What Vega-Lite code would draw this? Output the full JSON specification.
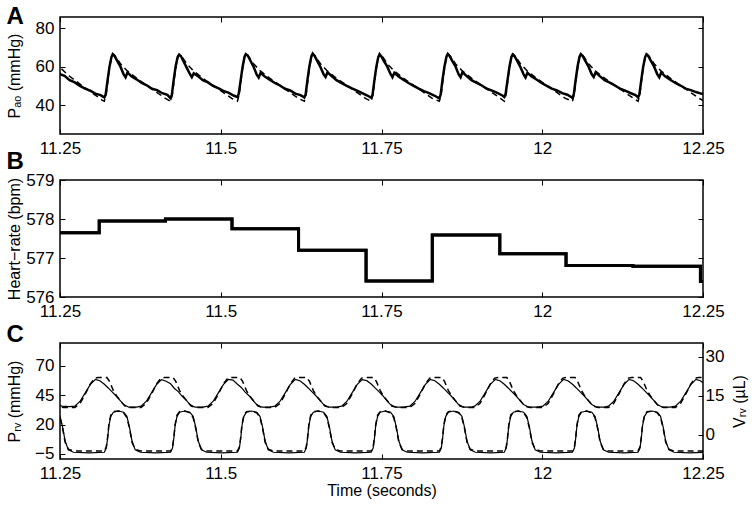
{
"$schema": "https://vega.github.io/schema/vega-lite/v6.json",
"padding": {"left": 5, "top": 3, "right": 5, "bottom": 3},
"background": "white",
"config": {
  "font": "Liberation Sans",
  "view": {"stroke": "black", "strokeWidth": 1.5},
  "axis": {"domain": false, "grid": false, "ticks": true, "tickSize": -5, "tickColor": "black", "tickWidth": 1,
           "labelFontSize": 17, "labelColor": "black", "labelFont": "Liberation Sans", "labelPadding": 11,
           "labelFlush": false, "labelOverlap": false,
           "titleFont": "Liberation Sans", "titleFontSize": 16, "titleFontWeight": "normal", "titleColor": "black"}
},
"datasets": {
"aoMeas": [
{"t":11.245,"v":57.5},{"t":11.251,"v":56},{"t":11.257,"v":55.2},{"t":11.265,"v":53},{"t":11.273,"v":51.8},{"t":11.281,"v":50},{"t":11.289,"v":48.6},{"t":11.297,"v":47.5},{"t":11.305,"v":46},{"t":11.313,"v":45.2},
{"t":11.319,"v":44},{"t":11.321,"v":45.5},{"t":11.324,"v":53},{"t":11.327,"v":60},{"t":11.330,"v":65},{"t":11.332,"v":66.5},{"t":11.335,"v":65.5},{"t":11.339,"v":63},{"t":11.344,"v":60},{"t":11.349,"v":56},{"t":11.352,"v":54.5},{"t":11.355,"v":57},{"t":11.361,"v":55},{"t":11.369,"v":53.4},{"t":11.377,"v":51.5},{"t":11.385,"v":50.3},{"t":11.393,"v":48.5},{"t":11.401,"v":47.8},{"t":11.409,"v":46.2},{"t":11.417,"v":45.3},
{"t":11.422,"v":43.5},{"t":11.424,"v":45.5},{"t":11.427,"v":53.5},{"t":11.430,"v":60.5},{"t":11.433,"v":65},{"t":11.435,"v":66.2},{"t":11.438,"v":65.5},{"t":11.442,"v":62.8},{"t":11.447,"v":59.5},{"t":11.452,"v":56.2},{"t":11.455,"v":54.5},{"t":11.458,"v":56.5},{"t":11.464,"v":55.2},{"t":11.472,"v":53},{"t":11.480,"v":51.8},{"t":11.488,"v":50},{"t":11.496,"v":48.8},{"t":11.504,"v":47.4},{"t":11.512,"v":46.5},{"t":11.520,"v":45},
{"t":11.526,"v":44.2},{"t":11.528,"v":46},{"t":11.531,"v":53},{"t":11.534,"v":60},{"t":11.537,"v":65.2},{"t":11.539,"v":66.5},{"t":11.542,"v":65.8},{"t":11.546,"v":63.2},{"t":11.551,"v":60},{"t":11.556,"v":55.8},{"t":11.559,"v":54.3},{"t":11.562,"v":56.8},{"t":11.568,"v":55},{"t":11.576,"v":53.2},{"t":11.584,"v":51.6},{"t":11.592,"v":50.2},{"t":11.600,"v":48.5},{"t":11.608,"v":47.6},{"t":11.616,"v":46},{"t":11.624,"v":45.2},
{"t":11.630,"v":44},{"t":11.632,"v":45.5},{"t":11.635,"v":53.5},{"t":11.638,"v":60.5},{"t":11.641,"v":65.5},{"t":11.643,"v":66.8},{"t":11.646,"v":65.6},{"t":11.650,"v":63},{"t":11.655,"v":59.8},{"t":11.660,"v":56},{"t":11.663,"v":54.6},{"t":11.666,"v":57},{"t":11.672,"v":55.3},{"t":11.680,"v":53},{"t":11.688,"v":51.4},{"t":11.696,"v":50},{"t":11.704,"v":48.7},{"t":11.712,"v":47.5},{"t":11.720,"v":46.3},{"t":11.728,"v":45},
{"t":11.734,"v":43.8},{"t":11.736,"v":45.2},{"t":11.739,"v":53},{"t":11.742,"v":60},{"t":11.745,"v":65},{"t":11.747,"v":66.5},{"t":11.750,"v":65.2},{"t":11.754,"v":62.8},{"t":11.759,"v":60},{"t":11.764,"v":56.2},{"t":11.767,"v":54.5},{"t":11.770,"v":56.8},{"t":11.776,"v":55},{"t":11.784,"v":53.2},{"t":11.792,"v":51.5},{"t":11.800,"v":50},{"t":11.808,"v":48.6},{"t":11.816,"v":47.3},{"t":11.824,"v":46.2},{"t":11.832,"v":45},
{"t":11.840,"v":43.5},{"t":11.842,"v":45.5},{"t":11.845,"v":53.5},{"t":11.848,"v":60.2},{"t":11.851,"v":65.2},{"t":11.853,"v":66.6},{"t":11.856,"v":65.5},{"t":11.860,"v":63},{"t":11.865,"v":60.2},{"t":11.870,"v":56},{"t":11.873,"v":54.5},{"t":11.876,"v":57.2},{"t":11.882,"v":55.2},{"t":11.890,"v":53},{"t":11.898,"v":51.6},{"t":11.906,"v":50.2},{"t":11.914,"v":48.5},{"t":11.922,"v":47.5},{"t":11.930,"v":46.4},{"t":11.938,"v":45},
{"t":11.941,"v":44.2},{"t":11.943,"v":45.8},{"t":11.946,"v":53},{"t":11.949,"v":60},{"t":11.952,"v":65},{"t":11.954,"v":66.3},{"t":11.957,"v":65.4},{"t":11.961,"v":63},{"t":11.966,"v":59.8},{"t":11.971,"v":56},{"t":11.974,"v":54.4},{"t":11.977,"v":56.8},{"t":11.983,"v":55},{"t":11.991,"v":53.3},{"t":11.999,"v":51.5},{"t":12.007,"v":50},{"t":12.015,"v":48.6},{"t":12.023,"v":47.6},{"t":12.031,"v":46.2},{"t":12.039,"v":45.4},
{"t":12.047,"v":43.8},{"t":12.049,"v":45.5},{"t":12.052,"v":53.2},{"t":12.055,"v":60.2},{"t":12.058,"v":65.2},{"t":12.060,"v":66.5},{"t":12.063,"v":65.5},{"t":12.067,"v":63},{"t":12.072,"v":60},{"t":12.077,"v":56},{"t":12.080,"v":54.6},{"t":12.083,"v":57},{"t":12.089,"v":55.2},{"t":12.097,"v":53},{"t":12.105,"v":51.7},{"t":12.113,"v":50.2},{"t":12.121,"v":48.6},{"t":12.129,"v":47.5},{"t":12.137,"v":46.3},{"t":12.145,"v":45.2},
{"t":12.149,"v":44},{"t":12.151,"v":45.5},{"t":12.154,"v":53},{"t":12.157,"v":60},{"t":12.160,"v":65},{"t":12.162,"v":66.4},{"t":12.165,"v":65.5},{"t":12.169,"v":63},{"t":12.174,"v":60},{"t":12.179,"v":56},{"t":12.182,"v":54.5},{"t":12.185,"v":57},{"t":12.191,"v":55},{"t":12.199,"v":53.2},{"t":12.207,"v":51.5},{"t":12.215,"v":50.2},{"t":12.223,"v":48.6},{"t":12.231,"v":47.8},{"t":12.239,"v":46.8},{"t":12.247,"v":46},{"t":12.255,"v":45.5}
],
"aoModel": [
{"t":11.240,"v":62},{"t":11.250,"v":59.5},{"t":11.265,"v":55},{"t":11.280,"v":51.2},{"t":11.295,"v":47.5},{"t":11.310,"v":44},{"t":11.316,"v":42.5},
{"t":11.319,"v":42},{"t":11.322,"v":46},{"t":11.326,"v":57},{"t":11.330,"v":65},{"t":11.333,"v":66.5},{"t":11.337,"v":65},{"t":11.344,"v":61.5},{"t":11.354,"v":58},{"t":11.369,"v":54},{"t":11.384,"v":50.5},{"t":11.399,"v":47},{"t":11.414,"v":43.5},
{"t":11.422,"v":42},{"t":11.425,"v":46},{"t":11.429,"v":57},{"t":11.433,"v":65},{"t":11.436,"v":66.5},{"t":11.440,"v":65},{"t":11.447,"v":61.5},{"t":11.457,"v":58},{"t":11.472,"v":54},{"t":11.487,"v":50.5},{"t":11.502,"v":47},{"t":11.517,"v":43.5},
{"t":11.526,"v":42},{"t":11.529,"v":46},{"t":11.533,"v":57},{"t":11.537,"v":65},{"t":11.540,"v":66.5},{"t":11.544,"v":65},{"t":11.551,"v":61.5},{"t":11.561,"v":58},{"t":11.576,"v":54},{"t":11.591,"v":50.5},{"t":11.606,"v":47},{"t":11.621,"v":43.5},
{"t":11.630,"v":42},{"t":11.633,"v":46},{"t":11.637,"v":57},{"t":11.641,"v":65},{"t":11.644,"v":66.5},{"t":11.648,"v":65},{"t":11.655,"v":61.5},{"t":11.665,"v":58},{"t":11.680,"v":54},{"t":11.695,"v":50.5},{"t":11.710,"v":47},{"t":11.725,"v":43.5},
{"t":11.734,"v":42},{"t":11.737,"v":46},{"t":11.741,"v":57},{"t":11.745,"v":65},{"t":11.748,"v":66.5},{"t":11.752,"v":65},{"t":11.759,"v":61.5},{"t":11.769,"v":58},{"t":11.784,"v":54},{"t":11.799,"v":50.5},{"t":11.814,"v":47},{"t":11.829,"v":43.5},
{"t":11.840,"v":42},{"t":11.843,"v":46},{"t":11.847,"v":57},{"t":11.851,"v":65},{"t":11.854,"v":66.5},{"t":11.858,"v":65},{"t":11.865,"v":61.5},{"t":11.875,"v":58},{"t":11.890,"v":54},{"t":11.905,"v":50.5},{"t":11.920,"v":47},{"t":11.935,"v":43.5},
{"t":11.941,"v":42},{"t":11.944,"v":46},{"t":11.948,"v":57},{"t":11.952,"v":65},{"t":11.955,"v":66.5},{"t":11.959,"v":65},{"t":11.966,"v":61.5},{"t":11.976,"v":58},{"t":11.991,"v":54},{"t":12.006,"v":50.5},{"t":12.021,"v":47},{"t":12.036,"v":43.5},
{"t":12.047,"v":42},{"t":12.050,"v":46},{"t":12.054,"v":57},{"t":12.058,"v":65},{"t":12.061,"v":66.5},{"t":12.065,"v":65},{"t":12.072,"v":61.5},{"t":12.082,"v":58},{"t":12.097,"v":54},{"t":12.112,"v":50.5},{"t":12.127,"v":47},{"t":12.142,"v":43.5},
{"t":12.149,"v":42},{"t":12.152,"v":46},{"t":12.156,"v":57},{"t":12.160,"v":65},{"t":12.163,"v":66.5},{"t":12.167,"v":65},{"t":12.174,"v":61.5},{"t":12.184,"v":58},{"t":12.199,"v":54},{"t":12.214,"v":50.5},{"t":12.229,"v":47},{"t":12.244,"v":43.5},{"t":12.253,"v":42}
],
"hr": [
{"t":11.25,"v":577.65},{"t":11.311,"v":577.95},{"t":11.414,"v":578.0},{"t":11.5175,"v":577.75},{"t":11.621,"v":577.2},{"t":11.726,"v":576.41},{"t":11.829,"v":577.59},{"t":11.934,"v":577.11},{"t":12.037,"v":576.81},{"t":12.141,"v":576.79},{"t":12.246,"v":576.4},{"t":12.25,"v":576.4}
],
"prvMeas": [
{"t":11.240,"v":31},{"t":11.245,"v":30.5},{"t":11.250,"v":27},{"t":11.254,"v":18},{"t":11.258,"v":6},{"t":11.263,"v":-1.5},{"t":11.271,"v":-3.5},{"t":11.295,"v":-4},
{"t":11.319,"v":-3.5},{"t":11.322,"v":0},{"t":11.324,"v":8},{"t":11.326,"v":19},{"t":11.329,"v":27},{"t":11.333,"v":30.5},{"t":11.341,"v":31.5},{"t":11.349,"v":30.5},{"t":11.354,"v":27},{"t":11.358,"v":18},{"t":11.362,"v":6},{"t":11.367,"v":-1.5},{"t":11.375,"v":-3.5},{"t":11.399,"v":-4},
{"t":11.422,"v":-3.5},{"t":11.425,"v":0},{"t":11.427,"v":8},{"t":11.429,"v":19},{"t":11.432,"v":27},{"t":11.436,"v":30.5},{"t":11.444,"v":31.5},{"t":11.452,"v":30.5},{"t":11.457,"v":27},{"t":11.461,"v":18},{"t":11.465,"v":6},{"t":11.470,"v":-1.5},{"t":11.478,"v":-3.5},{"t":11.502,"v":-4},
{"t":11.526,"v":-3.5},{"t":11.529,"v":0},{"t":11.531,"v":8},{"t":11.533,"v":19},{"t":11.536,"v":27},{"t":11.540,"v":30.5},{"t":11.548,"v":31.5},{"t":11.556,"v":30.5},{"t":11.561,"v":27},{"t":11.565,"v":18},{"t":11.569,"v":6},{"t":11.574,"v":-1.5},{"t":11.582,"v":-3.5},{"t":11.606,"v":-4},
{"t":11.630,"v":-3.5},{"t":11.633,"v":0},{"t":11.635,"v":8},{"t":11.637,"v":19},{"t":11.640,"v":27},{"t":11.644,"v":30.5},{"t":11.652,"v":31.5},{"t":11.660,"v":30.5},{"t":11.665,"v":27},{"t":11.669,"v":18},{"t":11.673,"v":6},{"t":11.678,"v":-1.5},{"t":11.686,"v":-3.5},{"t":11.710,"v":-4},
{"t":11.734,"v":-3.5},{"t":11.737,"v":0},{"t":11.739,"v":8},{"t":11.741,"v":19},{"t":11.744,"v":27},{"t":11.748,"v":30.5},{"t":11.756,"v":31.5},{"t":11.764,"v":30.5},{"t":11.769,"v":27},{"t":11.773,"v":18},{"t":11.777,"v":6},{"t":11.782,"v":-1.5},{"t":11.790,"v":-3.5},{"t":11.814,"v":-4},
{"t":11.840,"v":-3.5},{"t":11.843,"v":0},{"t":11.845,"v":8},{"t":11.847,"v":19},{"t":11.850,"v":27},{"t":11.854,"v":30.5},{"t":11.862,"v":31.5},{"t":11.870,"v":30.5},{"t":11.875,"v":27},{"t":11.879,"v":18},{"t":11.883,"v":6},{"t":11.888,"v":-1.5},{"t":11.896,"v":-3.5},{"t":11.920,"v":-4},
{"t":11.941,"v":-3.5},{"t":11.944,"v":0},{"t":11.946,"v":8},{"t":11.948,"v":19},{"t":11.951,"v":27},{"t":11.955,"v":30.5},{"t":11.963,"v":31.5},{"t":11.971,"v":30.5},{"t":11.976,"v":27},{"t":11.980,"v":18},{"t":11.984,"v":6},{"t":11.989,"v":-1.5},{"t":11.997,"v":-3.5},{"t":12.021,"v":-4},
{"t":12.047,"v":-3.5},{"t":12.050,"v":0},{"t":12.052,"v":8},{"t":12.054,"v":19},{"t":12.057,"v":27},{"t":12.061,"v":30.5},{"t":12.069,"v":31.5},{"t":12.077,"v":30.5},{"t":12.082,"v":27},{"t":12.086,"v":18},{"t":12.090,"v":6},{"t":12.095,"v":-1.5},{"t":12.103,"v":-3.5},{"t":12.127,"v":-4},
{"t":12.149,"v":-3.5},{"t":12.152,"v":0},{"t":12.154,"v":8},{"t":12.156,"v":19},{"t":12.159,"v":27},{"t":12.163,"v":30.5},{"t":12.171,"v":31.5},{"t":12.179,"v":30.5},{"t":12.184,"v":27},{"t":12.188,"v":18},{"t":12.192,"v":6},{"t":12.197,"v":-1.5},{"t":12.205,"v":-3.5},{"t":12.229,"v":-4},
{"t":12.252,"v":-3.5},{"t":12.256,"v":0}
],
"prvModel": [
{"t":11.240,"v":31},{"t":11.245,"v":30},{"t":11.250,"v":26},{"t":11.254,"v":17},{"t":11.258,"v":5},{"t":11.263,"v":-1},{"t":11.271,"v":-2.5},{"t":11.295,"v":-2.5},
{"t":11.319,"v":-2.5},{"t":11.322,"v":1},{"t":11.324,"v":9},{"t":11.326,"v":20},{"t":11.329,"v":28},{"t":11.333,"v":31},{"t":11.341,"v":31.5},{"t":11.349,"v":30},{"t":11.354,"v":26},{"t":11.358,"v":17},{"t":11.362,"v":5},{"t":11.367,"v":-1},{"t":11.375,"v":-2.5},{"t":11.399,"v":-2.5},
{"t":11.422,"v":-2.5},{"t":11.425,"v":1},{"t":11.427,"v":9},{"t":11.429,"v":20},{"t":11.432,"v":28},{"t":11.436,"v":31},{"t":11.444,"v":31.5},{"t":11.452,"v":30},{"t":11.457,"v":26},{"t":11.461,"v":17},{"t":11.465,"v":5},{"t":11.470,"v":-1},{"t":11.478,"v":-2.5},{"t":11.502,"v":-2.5},
{"t":11.526,"v":-2.5},{"t":11.529,"v":1},{"t":11.531,"v":9},{"t":11.533,"v":20},{"t":11.536,"v":28},{"t":11.540,"v":31},{"t":11.548,"v":31.5},{"t":11.556,"v":30},{"t":11.561,"v":26},{"t":11.565,"v":17},{"t":11.569,"v":5},{"t":11.574,"v":-1},{"t":11.582,"v":-2.5},{"t":11.606,"v":-2.5},
{"t":11.630,"v":-2.5},{"t":11.633,"v":1},{"t":11.635,"v":9},{"t":11.637,"v":20},{"t":11.640,"v":28},{"t":11.644,"v":31},{"t":11.652,"v":31.5},{"t":11.660,"v":30},{"t":11.665,"v":26},{"t":11.669,"v":17},{"t":11.673,"v":5},{"t":11.678,"v":-1},{"t":11.686,"v":-2.5},{"t":11.710,"v":-2.5},
{"t":11.734,"v":-2.5},{"t":11.737,"v":1},{"t":11.739,"v":9},{"t":11.741,"v":20},{"t":11.744,"v":28},{"t":11.748,"v":31},{"t":11.756,"v":31.5},{"t":11.764,"v":30},{"t":11.769,"v":26},{"t":11.773,"v":17},{"t":11.777,"v":5},{"t":11.782,"v":-1},{"t":11.790,"v":-2.5},{"t":11.814,"v":-2.5},
{"t":11.840,"v":-2.5},{"t":11.843,"v":1},{"t":11.845,"v":9},{"t":11.847,"v":20},{"t":11.850,"v":28},{"t":11.854,"v":31},{"t":11.862,"v":31.5},{"t":11.870,"v":30},{"t":11.875,"v":26},{"t":11.879,"v":17},{"t":11.883,"v":5},{"t":11.888,"v":-1},{"t":11.896,"v":-2.5},{"t":11.920,"v":-2.5},
{"t":11.941,"v":-2.5},{"t":11.944,"v":1},{"t":11.946,"v":9},{"t":11.948,"v":20},{"t":11.951,"v":28},{"t":11.955,"v":31},{"t":11.963,"v":31.5},{"t":11.971,"v":30},{"t":11.976,"v":26},{"t":11.980,"v":17},{"t":11.984,"v":5},{"t":11.989,"v":-1},{"t":11.997,"v":-2.5},{"t":12.021,"v":-2.5},
{"t":12.047,"v":-2.5},{"t":12.050,"v":1},{"t":12.052,"v":9},{"t":12.054,"v":20},{"t":12.057,"v":28},{"t":12.061,"v":31},{"t":12.069,"v":31.5},{"t":12.077,"v":30},{"t":12.082,"v":26},{"t":12.086,"v":17},{"t":12.090,"v":5},{"t":12.095,"v":-1},{"t":12.103,"v":-2.5},{"t":12.127,"v":-2.5},
{"t":12.149,"v":-2.5},{"t":12.152,"v":1},{"t":12.154,"v":9},{"t":12.156,"v":20},{"t":12.159,"v":28},{"t":12.163,"v":31},{"t":12.171,"v":31.5},{"t":12.179,"v":30},{"t":12.184,"v":26},{"t":12.188,"v":17},{"t":12.192,"v":5},{"t":12.197,"v":-1},{"t":12.205,"v":-2.5},{"t":12.229,"v":-2.5},
{"t":12.252,"v":-2.5},{"t":12.256,"v":1}
],
"vrvMeas": [
{"t":11.239,"v":13.3},{"t":11.245,"v":11.6},{"t":11.253,"v":11},{"t":11.265,"v":10.8},
{"t":11.273,"v":11},{"t":11.281,"v":12.8},{"t":11.289,"v":16},{"t":11.297,"v":19.3},{"t":11.305,"v":21.3},{"t":11.312,"v":20.8},{"t":11.319,"v":19.4},{"t":11.325,"v":18},{"t":11.331,"v":16.5},{"t":11.337,"v":15},{"t":11.343,"v":13.3},{"t":11.349,"v":11.6},{"t":11.357,"v":10.6},{"t":11.369,"v":10.6},
{"t":11.376,"v":11},{"t":11.384,"v":12.8},{"t":11.392,"v":16},{"t":11.400,"v":19.3},{"t":11.408,"v":21.2},{"t":11.415,"v":20.6},{"t":11.422,"v":19.6},{"t":11.428,"v":17.8},{"t":11.434,"v":16.6},{"t":11.440,"v":14.8},{"t":11.446,"v":13.4},{"t":11.452,"v":11.6},{"t":11.460,"v":10.6},{"t":11.472,"v":10.6},
{"t":11.480,"v":11},{"t":11.488,"v":12.8},{"t":11.496,"v":16},{"t":11.504,"v":19.3},{"t":11.512,"v":21.3},{"t":11.519,"v":21},{"t":11.526,"v":19.4},{"t":11.532,"v":18.2},{"t":11.538,"v":16.4},{"t":11.544,"v":15},{"t":11.550,"v":13.2},{"t":11.556,"v":11.6},{"t":11.564,"v":10.6},{"t":11.576,"v":10.6},
{"t":11.584,"v":11},{"t":11.592,"v":12.8},{"t":11.600,"v":16},{"t":11.608,"v":19.3},{"t":11.616,"v":21.3},{"t":11.623,"v":20.8},{"t":11.630,"v":19.4},{"t":11.636,"v":18},{"t":11.642,"v":16.5},{"t":11.648,"v":15},{"t":11.654,"v":13.3},{"t":11.660,"v":11.6},{"t":11.668,"v":10.6},{"t":11.680,"v":10.6},
{"t":11.688,"v":11},{"t":11.696,"v":12.8},{"t":11.704,"v":16},{"t":11.712,"v":19.3},{"t":11.720,"v":21.2},{"t":11.727,"v":20.8},{"t":11.734,"v":19.5},{"t":11.740,"v":18},{"t":11.746,"v":16.6},{"t":11.752,"v":15},{"t":11.758,"v":13.2},{"t":11.764,"v":11.6},{"t":11.772,"v":10.6},{"t":11.784,"v":10.6},
{"t":11.794,"v":11},{"t":11.802,"v":12.8},{"t":11.810,"v":16},{"t":11.818,"v":19.3},{"t":11.826,"v":21.3},{"t":11.833,"v":20.8},{"t":11.840,"v":19.4},{"t":11.846,"v":18},{"t":11.852,"v":16.5},{"t":11.858,"v":15},{"t":11.864,"v":13.3},{"t":11.870,"v":11.6},{"t":11.878,"v":10.6},{"t":11.890,"v":10.6},
{"t":11.895,"v":11},{"t":11.903,"v":12.8},{"t":11.911,"v":16},{"t":11.919,"v":19.3},{"t":11.927,"v":21.3},{"t":11.934,"v":20.8},{"t":11.941,"v":19.4},{"t":11.947,"v":18},{"t":11.953,"v":16.5},{"t":11.959,"v":15},{"t":11.965,"v":13.3},{"t":11.971,"v":11.6},{"t":11.979,"v":10.6},{"t":11.991,"v":10.6},
{"t":12.001,"v":11},{"t":12.009,"v":12.8},{"t":12.017,"v":16},{"t":12.025,"v":19.3},{"t":12.033,"v":21.3},{"t":12.040,"v":20.8},{"t":12.047,"v":19.4},{"t":12.053,"v":18},{"t":12.059,"v":16.5},{"t":12.065,"v":15},{"t":12.071,"v":13.3},{"t":12.077,"v":11.6},{"t":12.085,"v":10.6},{"t":12.097,"v":10.6},
{"t":12.103,"v":11},{"t":12.111,"v":12.8},{"t":12.119,"v":16},{"t":12.127,"v":19.3},{"t":12.135,"v":21.3},{"t":12.142,"v":20.8},{"t":12.149,"v":19.4},{"t":12.155,"v":18},{"t":12.161,"v":16.5},{"t":12.167,"v":15},{"t":12.173,"v":13.3},{"t":12.179,"v":11.6},{"t":12.187,"v":10.6},{"t":12.199,"v":10.6},
{"t":12.207,"v":11},{"t":12.215,"v":12.8},{"t":12.223,"v":16},{"t":12.231,"v":19.3},{"t":12.239,"v":21.3},{"t":12.246,"v":20.8},{"t":12.253,"v":19.4}
],
"vrvModel": [
{"t":11.241,"v":12.8},{"t":11.247,"v":11},{"t":11.255,"v":10.5},{"t":11.265,"v":10.5},
{"t":11.273,"v":10.5},{"t":11.281,"v":12},{"t":11.289,"v":15.5},{"t":11.297,"v":19.5},{"t":11.304,"v":21.8},{"t":11.309,"v":22},{"t":11.323,"v":22},{"t":11.327,"v":20.5},{"t":11.333,"v":17},{"t":11.339,"v":14.6},{"t":11.345,"v":12.8},{"t":11.351,"v":11},{"t":11.359,"v":10.5},{"t":11.369,"v":10.5},
{"t":11.376,"v":10.5},{"t":11.384,"v":12},{"t":11.392,"v":15.5},{"t":11.400,"v":19.5},{"t":11.407,"v":21.8},{"t":11.412,"v":22},{"t":11.426,"v":22},{"t":11.430,"v":20.5},{"t":11.436,"v":17},{"t":11.442,"v":14.6},{"t":11.448,"v":12.8},{"t":11.454,"v":11},{"t":11.462,"v":10.5},{"t":11.472,"v":10.5},
{"t":11.480,"v":10.5},{"t":11.488,"v":12},{"t":11.496,"v":15.5},{"t":11.504,"v":19.5},{"t":11.511,"v":21.8},{"t":11.516,"v":22},{"t":11.530,"v":22},{"t":11.534,"v":20.5},{"t":11.540,"v":17},{"t":11.546,"v":14.6},{"t":11.552,"v":12.8},{"t":11.558,"v":11},{"t":11.566,"v":10.5},{"t":11.576,"v":10.5},
{"t":11.584,"v":10.5},{"t":11.592,"v":12},{"t":11.600,"v":15.5},{"t":11.608,"v":19.5},{"t":11.615,"v":21.8},{"t":11.620,"v":22},{"t":11.634,"v":22},{"t":11.638,"v":20.5},{"t":11.644,"v":17},{"t":11.650,"v":14.6},{"t":11.656,"v":12.8},{"t":11.662,"v":11},{"t":11.670,"v":10.5},{"t":11.680,"v":10.5},
{"t":11.688,"v":10.5},{"t":11.696,"v":12},{"t":11.704,"v":15.5},{"t":11.712,"v":19.5},{"t":11.719,"v":21.8},{"t":11.724,"v":22},{"t":11.738,"v":22},{"t":11.742,"v":20.5},{"t":11.748,"v":17},{"t":11.754,"v":14.6},{"t":11.760,"v":12.8},{"t":11.766,"v":11},{"t":11.774,"v":10.5},{"t":11.784,"v":10.5},
{"t":11.794,"v":10.5},{"t":11.802,"v":12},{"t":11.810,"v":15.5},{"t":11.818,"v":19.5},{"t":11.825,"v":21.8},{"t":11.830,"v":22},{"t":11.844,"v":22},{"t":11.848,"v":20.5},{"t":11.854,"v":17},{"t":11.860,"v":14.6},{"t":11.866,"v":12.8},{"t":11.872,"v":11},{"t":11.880,"v":10.5},{"t":11.890,"v":10.5},
{"t":11.895,"v":10.5},{"t":11.903,"v":12},{"t":11.911,"v":15.5},{"t":11.919,"v":19.5},{"t":11.926,"v":21.8},{"t":11.931,"v":22},{"t":11.945,"v":22},{"t":11.949,"v":20.5},{"t":11.955,"v":17},{"t":11.961,"v":14.6},{"t":11.967,"v":12.8},{"t":11.973,"v":11},{"t":11.981,"v":10.5},{"t":11.991,"v":10.5},
{"t":12.001,"v":10.5},{"t":12.009,"v":12},{"t":12.017,"v":15.5},{"t":12.025,"v":19.5},{"t":12.032,"v":21.8},{"t":12.037,"v":22},{"t":12.051,"v":22},{"t":12.055,"v":20.5},{"t":12.061,"v":17},{"t":12.067,"v":14.6},{"t":12.073,"v":12.8},{"t":12.079,"v":11},{"t":12.087,"v":10.5},{"t":12.097,"v":10.5},
{"t":12.103,"v":10.5},{"t":12.111,"v":12},{"t":12.119,"v":15.5},{"t":12.127,"v":19.5},{"t":12.134,"v":21.8},{"t":12.139,"v":22},{"t":12.153,"v":22},{"t":12.157,"v":20.5},{"t":12.163,"v":17},{"t":12.169,"v":14.6},{"t":12.175,"v":12.8},{"t":12.181,"v":11},{"t":12.189,"v":10.5},{"t":12.199,"v":10.5},
{"t":12.207,"v":10.5},{"t":12.215,"v":12},{"t":12.223,"v":15.5},{"t":12.231,"v":19.5},{"t":12.238,"v":21.8},{"t":12.243,"v":22},{"t":12.257,"v":22}
]
},
"spacing": 46,
"bounds": "flush",
"vconcat": [
{
  "width": 643, "height": 117,
  "layer": [
    {"data": {"name": "aoMeas"}, "mark": {"type": "line", "color": "black", "strokeWidth": 2.5, "clip": true},
     "encoding": {
       "x": {"field": "t", "type": "quantitative", "scale": {"domain": [11.25, 12.25], "nice": false, "zero": false}, "axis": {"values": [11.25, 11.5, 11.75, 12, 12.25], "labelExpr": "'' + datum.value", "title": null}},
       "y": {"field": "v", "type": "quantitative", "scale": {"domain": [25, 85.8], "nice": false, "zero": false}, "axis": {"values": [40, 60, 80], "title": "Pₐₒ (mmHg)", "titleX": -46, "titleBaseline": "middle"}}
     }},
    {"data": {"name": "aoModel"}, "mark": {"type": "line", "color": "black", "strokeWidth": 1.5, "strokeDash": [6, 4], "clip": true},
     "encoding": {
       "x": {"field": "t", "type": "quantitative", "scale": {"domain": [11.25, 12.25], "nice": false, "zero": false}, "axis": {"orient": "top", "labels": false, "values": [11.25, 11.5, 11.75, 12, 12.25], "title": "A", "titleX": -54, "titleY": 6, "titleAlign": "left", "titleBaseline": "alphabetic", "titleAngle": 0, "titleFontSize": 24, "titleFontWeight": "bold"}},
       "y": {"field": "v", "type": "quantitative", "scale": {"domain": [25, 85.8], "nice": false, "zero": false}, "axis": {"orient": "right", "labels": false, "values": [40, 60, 80], "title": null}}
     }}
  ],
  "resolve": {"axis": {"x": "independent", "y": "independent"}}
},
{
  "width": 643, "height": 117,
  "data": {"name": "hr"},
  "layer": [
    {"mark": {"type": "line", "color": "black", "strokeWidth": 3, "interpolate": "step-after", "clip": true},
     "encoding": {
       "x": {"field": "t", "type": "quantitative", "scale": {"domain": [11.25, 12.25], "nice": false, "zero": false}, "axis": {"values": [11.25, 11.5, 11.75, 12, 12.25], "labelExpr": "'' + datum.value", "title": null}},
       "y": {"field": "v", "type": "quantitative", "scale": {"domain": [576, 579], "nice": false, "zero": false}, "axis": {"values": [576, 577, 578, 579], "title": "Heart−rate (bpm)", "titleX": -46, "titleBaseline": "middle"}}
     }},
    {"mark": {"type": "line", "color": "black", "strokeWidth": 3, "interpolate": "step-after", "clip": true},
     "encoding": {
       "x": {"field": "t", "type": "quantitative", "scale": {"domain": [11.25, 12.25], "nice": false, "zero": false}, "axis": {"orient": "top", "labels": false, "values": [11.25, 11.5, 11.75, 12, 12.25], "title": "B", "titleX": -54, "titleY": -12, "titleAlign": "left", "titleBaseline": "alphabetic", "titleAngle": 0, "titleFontSize": 24, "titleFontWeight": "bold"}},
       "y": {"field": "v", "type": "quantitative", "scale": {"domain": [576, 579], "nice": false, "zero": false}, "axis": {"orient": "right", "labels": false, "values": [576, 577, 578, 579], "title": null}}
     }}
  ],
  "resolve": {"axis": {"x": "independent", "y": "independent"}}
},
{
  "width": 643, "height": 116,
  "layer": [
    {"data": {"name": "prvMeas"}, "mark": {"type": "line", "color": "black", "strokeWidth": 1.2, "clip": true},
     "encoding": {
       "x": {"field": "t", "type": "quantitative", "scale": {"domain": [11.25, 12.25], "nice": false, "zero": false}, "axis": {"values": [11.25, 11.5, 11.75, 12, 12.25], "labelExpr": "'' + datum.value", "title": "Time (seconds)", "titlePadding": 1}},
       "y": {"field": "v", "type": "quantitative", "scale": {"domain": [-9.25, 89.3], "nice": false, "zero": false}, "axis": {"orient": "left", "values": [-5, 20, 45, 70], "title": "Pᵣᵥ (mmHg)", "titleX": -46, "titleBaseline": "middle"}}
     }},
    {"data": {"name": "prvModel"}, "mark": {"type": "line", "color": "black", "strokeWidth": 1.5, "strokeDash": [6, 4], "clip": true},
     "encoding": {
       "x": {"field": "t", "type": "quantitative", "scale": {"domain": [11.25, 12.25], "nice": false, "zero": false}, "axis": {"orient": "top", "labels": false, "values": [11.25, 11.5, 11.75, 12, 12.25], "title": "C", "titleX": -54, "titleY": -2, "titleAlign": "left", "titleBaseline": "alphabetic", "titleAngle": 0, "titleFontSize": 24, "titleFontWeight": "bold"}},
       "y": {"field": "v", "type": "quantitative", "scale": {"domain": [-9.25, 89.3], "nice": false, "zero": false}, "axis": null}
     }},
    {"data": {"name": "vrvMeas"}, "mark": {"type": "line", "color": "black", "strokeWidth": 1.2, "clip": true},
     "encoding": {
       "x": {"field": "t", "type": "quantitative", "scale": {"domain": [11.25, 12.25], "nice": false, "zero": false}, "axis": null},
       "y": {"field": "v", "type": "quantitative", "scale": {"domain": [-9.35, 35.3], "nice": false, "zero": false}, "axis": {"orient": "right", "values": [0, 15, 30], "title": "Vᵣᵥ (µL)", "titleAngle": 270, "titleX": 36, "titleBaseline": "middle", "labelPadding": 7}}
     }},
    {"data": {"name": "vrvModel"}, "mark": {"type": "line", "color": "black", "strokeWidth": 1.5, "strokeDash": [6, 4], "clip": true},
     "encoding": {
       "x": {"field": "t", "type": "quantitative", "scale": {"domain": [11.25, 12.25], "nice": false, "zero": false}, "axis": null},
       "y": {"field": "v", "type": "quantitative", "scale": {"domain": [-9.35, 35.3], "nice": false, "zero": false}, "axis": null}
     }}
  ],
  "resolve": {"scale": {"y": "independent"}, "axis": {"x": "independent", "y": "independent"}}
}
]
}
